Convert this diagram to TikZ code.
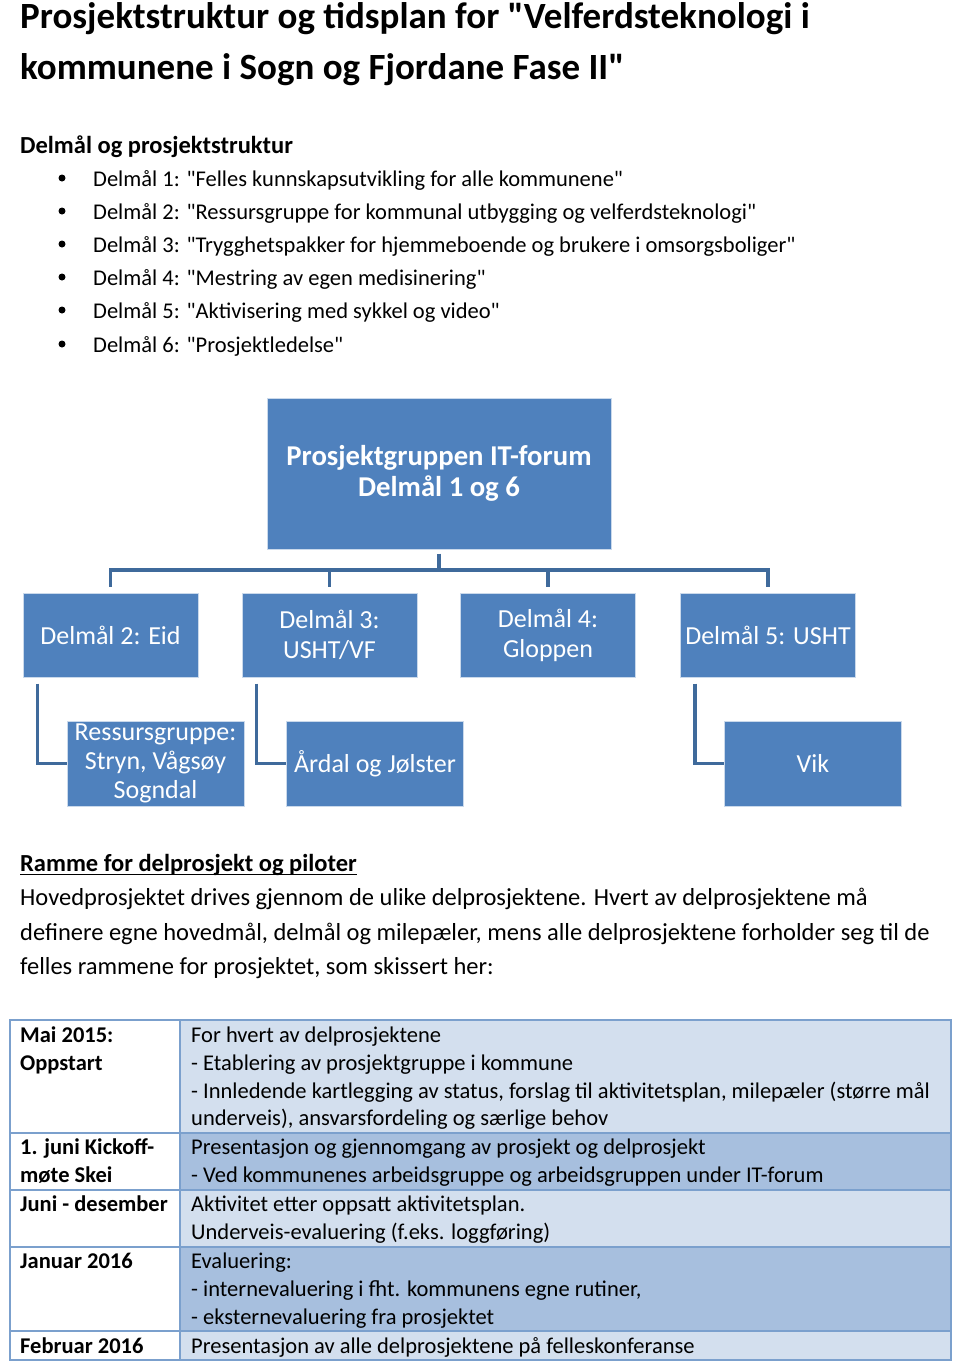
\documentclass[tikz,border=0pt]{standalone}
\usepackage{fontspec}
\setmainfont{Carlito}[Ligatures=TeXOff]
\begin{document}
\begin{tikzpicture}[x=1pt,y=-1pt,
  txt/.style={anchor=base west, inner sep=0pt, font=\fontsize{24.5}{28}\selectfont},
  lst/.style={anchor=base west, inner sep=0pt, font=\fontsize{22.5}{26}\selectfont},
  ttl/.style={anchor=base west, inner sep=0pt, font=\fontsize{37}{42}\selectfont\bfseries},
  tbl/.style={anchor=base west, inner sep=0pt, font=\fontsize{22.5}{26}\selectfont},
  tbb/.style={anchor=base west, inner sep=0pt, font=\fontsize{22.5}{26}\selectfont\bfseries},
  box/.style={draw=white!70!boxblue, line width=1pt, fill=boxblue, text=white, align=center, inner sep=2pt},
  conn/.style={draw=connblue, line width=3.5pt},
  grid/.style={draw=gridblue, line width=1.6pt}]
\definecolor{boxblue}{HTML}{4F81BD}
\definecolor{connblue}{HTML}{3F6A9B}
\definecolor{gridblue}{HTML}{7BA0CD}
\definecolor{lightrow}{HTML}{D3DFEE}
\definecolor{darkrow}{HTML}{A7BFDE}
\useasboundingbox (0,0) rectangle (960,1368);
\fill[white] (0,0) rectangle (960,1368);

% title
\node[ttl] (t1) at (20,28) {Prosjektstruktur og tidsplan for "Velferdsteknologi i};
\node[ttl] (t2) at (20,79) {kommunene i Sogn og Fjordane Fase II"};

\node[txt, font=\fontsize{24.5}{28}\selectfont\bfseries] (h1) at (20,153) {Delmål og prosjektstruktur};
\foreach \y/\t [count=\i] in {186/{Delmål 1: "Felles kunnskapsutvikling for alle kommunene"},
  219/{Delmål 2: "Ressursgruppe for kommunal utbygging og velferdsteknologi"},
  252/{Delmål 3: "Trygghetspakker for hjemmeboende og brukere i omsorgsboliger"},
  285/{Delmål 4: "Mestring av egen medisinering"},
  318/{Delmål 5: "Aktivisering med sykkel og video"},
  352/{Delmål 6: "Prosjektledelse"}}{
  \fill (62,\y-8) circle (3.5);
  \node[lst] (b\i) at (93,\y) {\t};
}

% org chart
\node[box, minimum width=344, minimum height=151, font=\fontsize{28.7}{31}\selectfont\bfseries] (top) at (439,473.5) {Prosjektgruppen IT-forum\\Delmål 1 og 6};
\foreach \n/\x/\t in {d2/110.5/{Delmål 2: Eid}, d3/329.5/{Delmål 3:\\USHT/VF}, d4/548/{Delmål 4:\\Gloppen}, d5/768/{Delmål 5: USHT}}{
  \node[box, minimum width=175, minimum height=84, font=\fontsize{26}{30}\selectfont] (\n) at (\x,635) {\t};
}
\node[box, minimum width=177, minimum height=85, font=\fontsize{26}{29}\selectfont] (r1) at (155.5,763.5) {Ressursgruppe:\\Stryn, Vågsøy\\Sogndal};
\node[box, minimum width=177, minimum height=85, font=\fontsize{26}{29}\selectfont] (r2) at (375,763.5) {Årdal og Jølster};
\node[box, minimum width=177, minimum height=85, font=\fontsize{26}{29}\selectfont] (r3) at (813,763.5) {Vik};

\coordinate (bus) at (0,570);
\draw[conn, shorten <=4pt] (top.south) -- (top.south |- bus);
\draw[conn, line cap=rect] (d2.north |- bus) -- (d5.north |- bus);
\foreach \n in {d2,d3,d4,d5}{
  \draw[conn, shorten >=6pt] (\n.north |- bus) -- (\n.north);
}
\draw[conn, shorten <=6pt] ([xshift=15pt]d2.south west) |- (r1.west);
\draw[conn, shorten <=6pt] ([xshift=15pt]d3.south west) |- (r2.west);
\draw[conn, shorten <=6pt] ([xshift=15pt]d5.south west) |- (r3.west);

% paragraph
\node[txt, font=\fontsize{24.5}{28}\selectfont\bfseries] (h2) at (20,871) {Ramme for delprosjekt og piloter};
\draw[line width=1.6pt] ([yshift=-3.5pt]h2.base west) -- ([yshift=-3.5pt]h2.base east);
\node[txt] (p1) at (20,905) {Hovedprosjektet drives gjennom de ulike delprosjektene. Hvert av delprosjektene må};
\node[txt] (p2) at (20,940) {definere egne hovedmål, delmål og milepæler, mens alle delprosjektene forholder seg til de};
\node[txt] (p3) at (20,974) {felles rammene for prosjektet, som skissert her:};

% table
\fill[lightrow] (180,1020) rectangle (951,1133);
\fill[darkrow] (180,1133) rectangle (951,1190);
\fill[lightrow] (180,1190) rectangle (951,1247);
\fill[darkrow] (180,1247) rectangle (951,1331);
\fill[lightrow] (180,1331) rectangle (951,1360);
\foreach \y in {1133,1190,1247,1331}{ \draw[grid] (10,\y) -- (951,\y); }
\draw[grid] (180,1020) -- (180,1360);
\draw[grid] (10,1020) rectangle (951,1360);

\node[tbb] (l1a) at (20,1042) {Mai 2015:};
\node[tbb] (l1b) at (20,1070) {Oppstart};
\node[tbb] (l2a) at (20,1154) {1. juni Kickoff-};
\node[tbb] (l2b) at (20,1182) {møte Skei};
\node[tbb] (l3) at (20,1211) {Juni - desember};
\node[tbb] (l4) at (20,1268) {Januar 2016};
\node[tbb] (l5) at (20,1353) {Februar 2016};

\node[tbl] (c1) at (191,1042) {For hvert av delprosjektene};
\node[tbl] (c2) at (191,1070) {- Etablering av prosjektgruppe i kommune};
\node[tbl] (c3) at (191,1098) {- Innledende kartlegging av status, forslag til aktivitetsplan, milepæler (større mål};
\node[tbl] (c4) at (191,1125) {underveis), ansvarsfordeling og særlige behov};
\node[tbl] (c5) at (191,1154) {Presentasjon og gjennomgang av prosjekt og delprosjekt};
\node[tbl] (c6) at (191,1182) {- Ved kommunenes arbeidsgruppe og arbeidsgruppen under IT-forum};
\node[tbl] (c7) at (191,1211) {Aktivitet etter oppsatt aktivitetsplan.};
\node[tbl] (c8) at (191,1239) {Underveis-evaluering (f.eks. loggføring)};
\node[tbl] (c9) at (191,1268) {Evaluering:};
\node[tbl] (c10) at (191,1296) {- internevaluering i fht. kommunens egne rutiner,};
\node[tbl] (c11) at (191,1324) {- eksternevaluering fra prosjektet};
\node[tbl] (c12) at (191,1353) {Presentasjon av alle delprosjektene på felleskonferanse};
\end{tikzpicture}
\end{document}
